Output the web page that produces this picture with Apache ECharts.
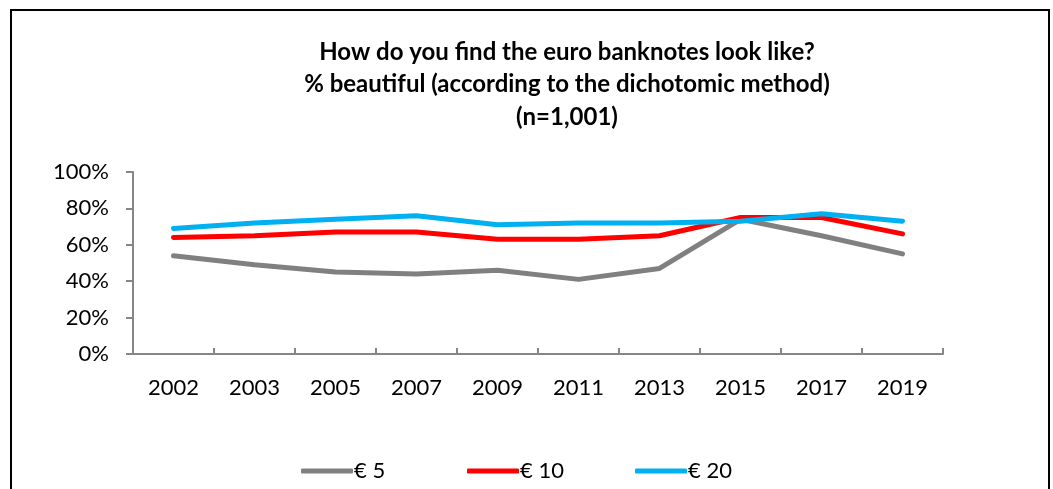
<!DOCTYPE html>
<html><head><meta charset="utf-8">
<script src="https://cdn.jsdelivr.net/npm/echarts@6/dist/echarts.min.js"></script>
<style>html,body{margin:0;padding:0;background:#fff}#c{width:1053px;height:489px}</style>
</head><body><div id="c"></div>
<script>
const categories = ['2002','2003','2005','2007','2009','2011','2013','2015','2017','2019'];
const eur5 = [54,49,45,44,46,41,47,74,65,55];
const eur10 = [64,65,67,67,63,63,65,75,75,66];
const eur20 = [69,72,74,76,71,72,72,73,77,73];
const seriesNames = ['€ 5','€ 10','€ 20'];
const yTicks = [0,20,40,60,80,100];
const titleLines = ['How do you find the euro banknotes look like?','% beautiful (according to the dichotomic method)','(n=1,001)'];

const FONT = 'Lato';
const chart = echarts.init(document.getElementById('c'), null, {renderer:'canvas'});
const colors = ['#808080','#FF0000','#00B0F0'];
const mk = (name, data, i) => ({
  name, type:'line', data, symbol:'none', smooth:false,
  lineStyle:{width:5, color:colors[i], cap:'round', join:'round'},
  itemStyle:{color:colors[i]}
});
const legendLeft = [296, 462, 630];
chart.setOption({
  animation:false,
  textStyle:{fontFamily:FONT},
  graphic:[{type:'rect', shape:{x:11,y:10,width:1038,height:520}, style:{fill:'none', stroke:'#000', lineWidth:2}, z:-1}],
  title:{text:titleLines.join('\n'), left:562, textAlign:'center', top:31,
    textStyle:{fontFamily:FONT, fontWeight:'bold', fontSize:24, lineHeight:32.5, color:'#000'}},
  legend: seriesNames.map((n,i)=>({top:455, left:legendLeft[i], itemWidth:52, itemHeight:5, itemGap:0,
    icon:'roundRect',
    textStyle:{fontFamily:FONT, fontSize:22, color:'#000', padding:[0,0,0,-4]},
    data:[n]})),
  grid:{left:133, right:110, top:172, bottom:135},
  xAxis:{type:'category', data:categories, boundaryGap:true,
    axisLine:{lineStyle:{color:'#868686', width:2}},
    axisTick:{show:true, inside:true, length:6, lineStyle:{color:'#868686', width:2}},
    axisLabel:{fontFamily:FONT, fontSize:22, color:'#000', margin:23}},
  yAxis:{type:'value', min:0, max:100, interval:20,
    axisLine:{show:true, lineStyle:{color:'#868686', width:2}},
    axisTick:{show:true, length:7, lineStyle:{color:'#868686', width:2}},
    splitLine:{show:false},
    axisLabel:{fontFamily:FONT, fontSize:22, color:'#000', margin:24,
      formatter:v => yTicks.includes(v) ? v+'%' : ''}},
  series:[mk(seriesNames[0],eur5,0), mk(seriesNames[1],eur10,1), mk(seriesNames[2],eur20,2)]
});
</script></body></html>
